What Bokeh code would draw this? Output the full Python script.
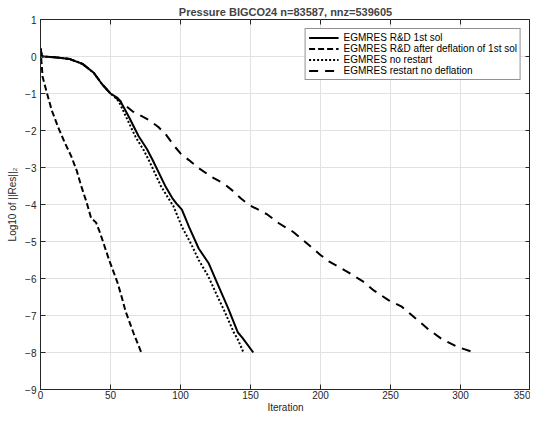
from bokeh.plotting import figure
from bokeh.models import FixedTicker, Range1d, Legend, LegendItem
from bokeh.embed import file_html
from bokeh.resources import INLINE

# ---- data ----
sol1_x = [0, 1, 2, 10, 21, 30, 38, 44, 50, 55, 57, 63, 70, 76, 80, 89, 94, 97, 101,
          106, 113, 120, 127, 134, 141, 144, 152]
sol1_y = [0.22, 0.0, 0.0, -0.02, -0.07, -0.2, -0.44, -0.75, -1.0, -1.12, -1.2, -1.62,
          -2.15, -2.5, -2.79, -3.49, -3.82, -3.97, -4.14, -4.6, -5.19, -5.58, -6.19,
          -6.80, -7.46, -7.59, -8.0]

defl_x = [0, 1, 1.5, 4.4, 8, 12.7, 17, 22, 26, 29, 33, 36.1, 39.7, 42, 45.5, 49, 55,
          58, 60.8, 66.7, 72]
defl_y = [0.2, -0.3, -0.55, -0.96, -1.45, -1.92, -2.3, -2.70, -3.1, -3.49, -3.95,
          -4.36, -4.49, -4.71, -5.1, -5.5, -6.11, -6.5, -6.89, -7.5, -8.0]

norst_x = [0, 1, 2, 10, 21, 30, 38, 44, 50, 54, 56, 61, 68, 74, 78, 86, 91.5, 95, 101,
           108, 113, 119.7, 126, 131.5, 138, 141, 145]
norst_y = [0.22, 0.0, 0.0, -0.02, -0.07, -0.2, -0.44, -0.75, -1.0, -1.13, -1.22, -1.62,
           -2.18, -2.55, -2.85, -3.5, -3.84, -4.05, -4.6, -5.1, -5.5, -5.93, -6.45,
           -6.89, -7.45, -7.65, -8.0]

rst_x = [0, 1, 2, 10, 21, 30, 38, 44, 50, 56, 65.7, 77.5, 84, 89.2, 96, 100, 106, 112.7,
         122, 131.5, 138, 143.2, 149, 162, 170, 180.8, 190, 199.5, 206, 218.3, 230,
         238.3, 248.8, 258, 267.6, 277, 286.4, 298, 310]
rst_y = [0.22, 0.0, 0.0, -0.02, -0.07, -0.2, -0.44, -0.75, -1.0, -1.18, -1.48, -1.72,
         -1.9, -2.09, -2.44, -2.62, -2.8, -3.01, -3.25, -3.45, -3.65, -3.84, -4.01,
         -4.27, -4.5, -4.75, -5.04, -5.35, -5.54, -5.80, -6.07, -6.33, -6.59, -6.76,
         -7.07, -7.37, -7.63, -7.85, -8.0]

x_ticks = [0, 50, 100, 150, 200, 250, 300, 350]
y_ticks = [-9, -8, -7, -6, -5, -4, -3, -2, -1, 0, 1]
labels = ["EGMRES R&D 1st sol", "EGMRES R&D after deflation of 1st sol",
          "EGMRES no restart", "EGMRES restart no deflation"]
title_text = "Pressure BIGCO24 n=83587, nnz=539605"

FONT = "Liberation Sans"
AX = "#262626"
X0, X1, Y0, Y1 = 0, 350, -9, 1

p = figure(width=530, height=415, x_range=Range1d(X0, X1), y_range=Range1d(Y0, Y1),
           output_backend="svg", toolbar_location=None, title=title_text,
           min_border_left=40, min_border_right=0, min_border_top=19,
           min_border_bottom=22)

p.title.text_font = FONT
p.title.text_font_size = "11px"
p.title.text_font_style = "bold"
p.title.align = "center"
p.title.standoff = 3
p.title.offset = 0

p.outline_line_color = AX
p.outline_line_alpha = 1.0
p.outline_line_width = 1

for ax, ticks in ((p.xaxis[0], x_ticks), (p.yaxis[0], y_ticks)):
    ax.ticker = FixedTicker(ticks=ticks)
    ax.major_tick_in = 5
    ax.major_tick_out = 0
    ax.minor_tick_in = 0
    ax.minor_tick_out = 0
    ax.axis_line_color = AX
    ax.major_tick_line_color = AX
    ax.major_label_text_font = FONT
    ax.major_label_text_font_size = "10px"
    ax.major_label_text_color = AX
    ax.axis_label_text_font = FONT
    ax.axis_label_text_font_size = "10px"
    ax.axis_label_text_font_style = "normal"
    ax.axis_label_text_color = AX

p.xaxis.axis_label = "Iteration"
p.yaxis.axis_label = "Log10 of ||Res||\u2082"
p.xaxis.major_label_standoff = 1
p.xaxis.axis_label_standoff = 0
p.yaxis.major_label_standoff = 4
p.yaxis.axis_label_standoff = 4

p.xgrid.ticker = FixedTicker(ticks=x_ticks)
p.ygrid.ticker = FixedTicker(ticks=y_ticks)
p.grid.grid_line_color = "#e2e2e2"
p.grid.grid_line_width = 1

# inward ticks on the top and right sides of the box (about 5 px long)
dx = 5 * (X1 - X0) / 490.0
dy = 5 * (Y1 - Y0) / 372.0
p.segment(x0=[X1 - dx] * len(y_ticks), y0=y_ticks, x1=[X1] * len(y_ticks), y1=y_ticks,
          line_color=AX, line_width=1)
p.segment(x0=x_ticks, y0=[Y1 - dy] * len(x_ticks), x1=x_ticks, y1=[Y1] * len(x_ticks),
          line_color=AX, line_width=1)

r1 = p.line(sol1_x, sol1_y, line_color="black", line_width=2)
r2 = p.line(defl_x, defl_y, line_color="black", line_width=2, line_dash="6 3")
r3 = p.line(norst_x, norst_y, line_color="black", line_width=2, line_dash="2 2")
r4 = p.line(rst_x, rst_y, line_color="black", line_width=2, line_dash="9 7")

legend = Legend(items=[LegendItem(label=l, renderers=[r]) for l, r in
                       zip(labels, [r1, r2, r3, r4])],
                location="top_right", margin=9, padding=3, spacing=0,
                glyph_width=30, glyph_height=11, label_height=11, label_standoff=5,
                label_text_font=FONT, label_text_font_size="10px",
                label_text_color="black", border_line_color="#262626",
                border_line_width=1, background_fill_alpha=1.0)
p.add_layout(legend)

open("out.html", "w").write(file_html(p, INLINE))
